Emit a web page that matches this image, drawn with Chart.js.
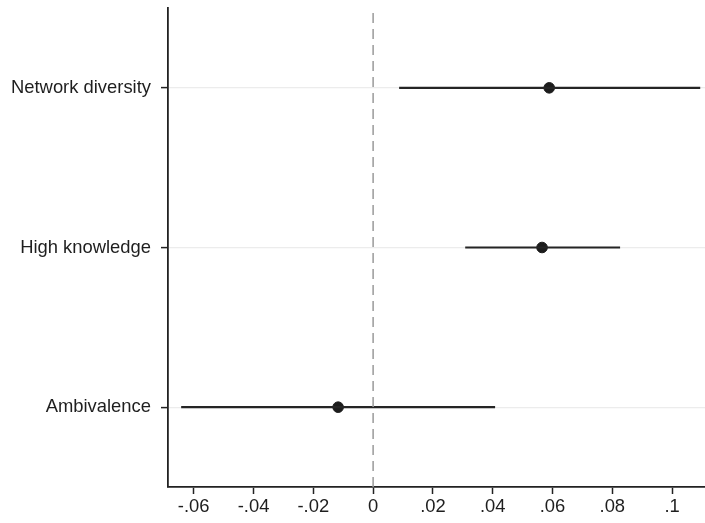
<!DOCTYPE html>
<html>
<head>
<meta charset="utf-8">
<script src="https://cdn.jsdelivr.net/npm/chart.js@4/dist/chart.umd.min.js"></script>
<style>
  html, body { margin: 0; padding: 0; background: #fff; }
  canvas { display: block; }
</style>
</head>
<body>
<canvas id="c" width="705" height="523"></canvas>
<script>
// Data (top to bottom as shown)
const categories = ['Network diversity', 'High knowledge', 'Ambivalence'];
const estimates  = [0.0589, 0.0565, -0.0117];
const lowerCI    = [0.0087, 0.0308, -0.0642];
const upperCI    = [0.1094, 0.0826, 0.0408];
const xTickValues = [-0.06, -0.04, -0.02, 0, 0.02, 0.04, 0.06, 0.08, 0.1];
const xTickLabels = ['-.06', '-.04', '-.02', '0', '.02', '.04', '.06', '.08', '.1'];
const referenceValue = 0;

const n = categories.length;
const yPos = categories.map((_, i) => n - i);

const datasets = [];
// reference dashed line
datasets.push({
  type: 'line',
  data: [{x: referenceValue, y: 0.5}, {x: referenceValue, y: n + 0.5}],
  borderColor: '#9a9a9a',
  borderWidth: 1.5,
  borderDash: [10, 6],
  pointRadius: 0,
  fill: false
});
// CI lines
categories.forEach((c, i) => {
  datasets.push({
    type: 'line',
    data: [{x: lowerCI[i], y: yPos[i]}, {x: upperCI[i], y: yPos[i]}],
    borderColor: '#252525',
    borderWidth: 2.2,
    pointRadius: 0,
    fill: false
  });
});
// point estimates
datasets.push({
  type: 'scatter',
  data: categories.map((c, i) => ({x: estimates[i], y: yPos[i]})),
  backgroundColor: '#1c1c1c',
  borderColor: '#1c1c1c',
  pointRadius: 5.3,
  pointHoverRadius: 5.3
});

const font = { family: "'Liberation Sans', Arial, sans-serif", size: 18.4 };

new Chart(document.getElementById('c'), {
  type: 'scatter',
  data: { datasets },
  options: {
    responsive: false,
    animation: false,
    layout: { autoPadding: false, padding: { top: 8, right: 0, left: 0, bottom: 0 } },
    plugins: { legend: { display: false }, tooltip: { enabled: false } },
    scales: {
      x: {
        type: 'linear',
        min: -0.0686,
        max: 0.111,
        afterBuildTicks: (s) => { s.ticks = xTickValues.map(v => ({ value: v })); },
        afterFit: (s) => { s.height = 36; s.paddingLeft = 0; s.paddingRight = 0; },
        ticks: {
          color: '#1e1e1e',
          font,
          padding: 2,
          maxRotation: 0,
          autoSkip: false,
          callback: (v) => {
            const idx = xTickValues.findIndex(t => Math.abs(t - v) < 1e-9);
            return idx >= 0 ? xTickLabels[idx] : '';
          }
        },
        grid: { drawOnChartArea: false, drawTicks: true, tickLength: 7, tickColor: '#222', tickWidth: 1.5 },
        border: { display: true, color: '#222', width: 1.8 }
      },
      y: {
        type: 'linear',
        min: 0.5,
        max: n + 0.5,
        afterBuildTicks: (s) => { s.ticks = yPos.map(v => ({ value: v })); },
        afterFit: (s) => { s.width = 168; s.paddingTop = 0; s.paddingBottom = 0; },
        ticks: {
          color: '#1e1e1e',
          font,
          padding: 10,
          autoSkip: false,
          callback: (v) => {
            const idx = yPos.indexOf(v);
            return idx >= 0 ? categories[idx] : '';
          }
        },
        grid: { drawOnChartArea: true, color: '#ececec', lineWidth: 1.2, drawTicks: true, tickLength: 7, tickColor: '#222', tickWidth: 1.5 },
        border: { display: true, color: '#222', width: 1.8 }
      }
    }
  }
});
</script>
</body>
</html>
